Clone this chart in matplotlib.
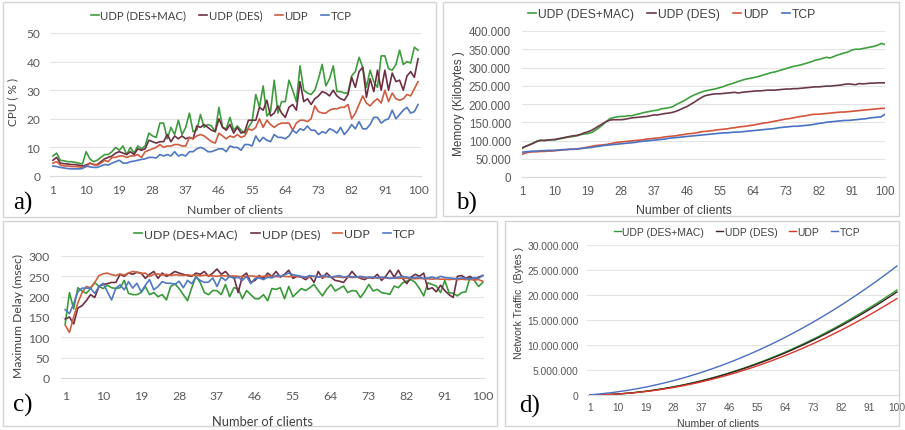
import matplotlib
matplotlib.use('Agg')
import matplotlib.pyplot as plt
from matplotlib.patches import Rectangle
from matplotlib.ticker import FuncFormatter

W, H = 905, 431

clients = list(range(1, 101))
names = ['UDP (DES+MAC)', 'UDP (DES)', 'UDP', 'TCP']

# a) CPU (%)
cpu_desmac = [7, 8, 5.5, 5.3, 5, 5, 4.8, 4.5, 4.2, 8.5,
              6, 5, 5.5, 6.5, 7.5, 7.5, 8.5, 10, 9, 10.5,
              7.5, 10, 8, 10.5, 9.5, 10.5, 15, 14, 13.5, 18.5,
              18.5, 13, 17, 14.5, 19.5, 14.5, 17, 22, 15.5, 16,
              21.5, 17, 18, 17.5, 15.5, 24, 17, 16.5, 20.5, 16,
              17.5, 16, 15, 17, 19, 28.5, 24, 31.5, 21, 22.5,
              33.5, 22, 26, 26, 33.5, 30, 26, 38.5, 30, 29,
              28.5, 30, 34, 39, 31.5, 34, 38.5, 29.5, 29.5, 29,
              29, 35, 36.5, 41.5, 38, 31, 37, 33, 31, 42,
              42, 37.5, 37, 39, 44, 39, 40, 39.5, 45, 44]
cpu_des = [5.5, 6.5, 4.5, 4.3, 4.2, 4, 4, 3.8, 3.5, 3.8,
           4.5, 4, 4, 5, 6, 6.5, 7, 8, 8.5, 8,
           7.5, 8.5, 7.5, 9.5, 9, 9.5, 12.5, 12, 11.5, 12,
           12, 14.5, 12, 14, 13, 14, 13, 13.5, 13, 17.5,
           17, 18, 17, 16, 15.5, 20, 17, 16, 18, 15,
           17, 15, 15.5, 19.5, 19.5, 19.5, 24, 23, 26.5, 21,
           22, 24.5, 22, 20.5, 24, 25, 23, 33, 26, 27,
           25, 27, 28, 29.5, 29, 28, 30, 28, 27, 26.5,
           28.5, 34.5, 31, 36.5, 38, 27.5, 34, 29.5, 37, 30,
           37, 30, 36, 33, 33.5, 30, 35, 36.5, 34.5, 41]
cpu_udp = [4.5, 5, 3.8, 3.5, 3.5, 3.3, 3.3, 3.2, 3, 3.2,
           4.5, 4, 3.8, 4.5, 5.5, 5, 6.5, 6.5, 7, 7,
           6.5, 7, 7, 7.5, 6.5, 8.5, 9, 9.5, 10, 11,
           10, 10.5, 10.5, 11, 11, 10.5, 10.5, 13.5, 13, 14,
           14.5, 14, 13, 12, 11.5, 15, 14, 13, 14, 13.5,
           14.5, 13.5, 14, 16.5, 16, 17, 20, 17, 19.5, 18,
           17, 18, 18.5, 18.5, 18.5, 16, 18.5, 19.5, 19.5, 19,
           20, 24.5, 22.5, 22, 22, 23, 23.5, 23.5, 24, 24,
           25, 20, 22, 25, 28, 25.5, 24.5, 26, 27, 25.5,
           30, 26, 29, 27, 26.5, 27, 28.5, 28, 30.5, 33]
cpu_tcp = [3.5, 3.3, 3, 2.8, 2.6, 2.5, 2.5, 2.5, 2.6, 3.5,
           3.2, 3, 3, 3.5, 4, 3.8, 4.5, 5, 5.5, 4.5,
           4.5, 5, 5.2, 5.5, 5.8, 6, 6.5, 6.5, 6.3, 7.5,
           7, 7.5, 7, 8.5, 7, 7.5, 7, 8.5, 8.5, 9.5,
           10, 9.5, 8.5, 8.5, 9, 9.5, 9.5, 8.5, 10.5, 10,
           10, 9, 11, 11, 10.5, 14, 12, 13.5, 12.5, 12,
           14.5, 13.5, 13.5, 13, 14, 16, 15, 16.5, 16, 17.5,
           16, 16, 14.5, 15.5, 15, 16.5, 16, 15, 17, 14.5,
           16, 18, 16.5, 19, 16.5, 16.5, 18, 20.5, 20.5, 18.5,
           19.5, 20, 23, 20, 21.5, 23, 24, 22, 22.5, 25]

# b) Memory (thousands of kilobytes)
mem_desmac = [78, 84, 88, 93, 98, 101, 100, 101, 102, 102,
              104, 106, 108, 110, 111, 113, 116, 118, 119, 122,
              128, 135, 143, 152, 160, 163, 165, 166, 166, 168,
              168, 171, 173, 176, 178, 180, 182, 183, 187, 188,
              190, 192, 198, 203, 208, 214, 220, 225, 229, 233,
              236, 238, 240, 242, 245, 248, 252, 255, 258, 262,
              265, 268, 270, 272, 274, 277, 280, 283, 286, 288,
              291, 294, 297, 300, 303, 305, 307, 310, 313, 316,
              320, 322, 325, 328, 326, 330, 334, 337, 340, 343,
              348, 350, 350, 352, 354, 356, 358, 361, 366, 363]
mem_des = [80, 84, 88, 92, 97, 100, 100, 101, 102, 103,
           105, 107, 109, 111, 113, 114, 117, 121, 124, 128,
           134, 140, 146, 152, 156, 157, 157, 157, 158, 160,
           162, 163, 164, 165, 166, 168, 170, 170, 172, 174,
           175, 177, 180, 184, 189, 193, 199, 205, 212, 218,
           223, 225, 227, 228, 228, 229, 230, 231, 232, 230,
           232, 233, 234, 235, 236, 236, 237, 238, 238, 238,
           239, 240, 241, 241, 242, 242, 243, 244, 245, 246,
           247, 247, 248, 249, 249, 250, 251, 252, 254, 255,
           254, 253, 256, 255, 256, 257, 257, 258, 258, 258]
mem_udp = [62, 66, 68, 69, 69, 70, 70, 71, 71, 72,
           73, 74, 75, 76, 76, 77, 78, 80, 82, 84,
           86, 87, 88, 89, 91, 93, 95, 96, 97, 98,
           99, 100, 101, 102, 104, 105, 106, 107, 108, 110,
           111, 112, 113, 115, 116, 118, 119, 120, 122, 124,
           125, 126, 127, 129, 130, 131, 132, 134, 135, 137,
           138, 139, 141, 142, 144, 146, 148, 149, 151, 153,
           155, 157, 159, 160, 162, 164, 166, 167, 169, 171,
           172, 172, 173, 174, 175, 176, 177, 178, 178, 179,
           180, 181, 182, 183, 184, 185, 186, 187, 188, 188]
mem_tcp = [68, 69, 70, 71, 71, 72, 72, 73, 73, 73,
           74, 75, 75, 76, 76, 77, 78, 79, 80, 81,
           83, 84, 86, 87, 88, 89, 90, 91, 92, 93,
           94, 95, 97, 98, 99, 100, 101, 102, 103, 104,
           106, 107, 108, 109, 110, 111, 112, 113, 114, 115,
           116, 117, 118, 119, 120, 121, 121, 122, 123, 123,
           124, 125, 126, 127, 128, 129, 130, 131, 132, 133,
           135, 136, 137, 138, 139, 139, 140, 141, 142, 143,
           145, 147, 148, 150, 151, 152, 153, 154, 155, 155,
           156, 157, 158, 159, 160, 162, 163, 164, 165, 172]

# c) Maximum delay (msec)
dly_desmac = [133, 210, 170, 222, 214, 208, 220, 235, 225, 220,
              228, 222, 220, 222, 240, 208, 205, 205, 210, 225,
              205, 210, 200, 205, 192, 225, 232, 220, 205, 190,
              222, 250, 235, 210, 205, 215, 215, 205, 230, 200,
              222, 220, 195, 215, 205, 195, 195, 205, 190, 220,
              218, 222, 195, 225, 200, 210, 220, 215, 222, 230,
              215, 202, 218, 230, 214, 220, 226, 210, 215, 214,
              198, 212, 230, 214, 218, 210, 208, 206, 226, 222,
              234, 238, 242, 235, 220, 202, 234, 230, 226, 210,
              240, 210, 208, 202, 210, 212, 248, 240, 225, 235]
dly_des = [145, 150, 133, 172, 178, 190, 205, 198, 225, 230,
           232, 235, 235, 255, 250, 258, 255, 260, 258, 245,
           255, 262, 245, 258, 250, 255, 262, 258, 255, 252,
           250, 258, 255, 262, 250, 258, 268, 255, 262, 250,
           248, 210, 250, 258, 235, 240, 252, 245, 258, 250,
           262, 248, 255, 265, 245, 250, 248, 242, 250, 235,
           262, 245, 258, 248, 240, 238, 235, 248, 262, 250,
           245, 242, 248, 245, 255, 240, 250, 265, 248, 265,
           245, 232, 248, 255, 250, 258, 218, 222, 212, 228,
           215, 205, 198, 250, 252, 245, 250, 242, 248, 252]
dly_udp = [130, 112, 150, 185, 210, 225, 222, 235, 252, 256,
           258, 254, 252, 256, 253, 258, 262, 260, 257, 258,
           250, 255, 256, 253, 255, 252, 254, 253, 252, 254,
           252, 253, 251, 253, 252, 251, 250, 252, 251, 250,
           251, 250, 249, 250, 251, 250, 249, 250, 251, 250,
           249, 250, 250, 249, 250, 250, 249, 248, 249, 250,
           249, 248, 249, 248, 249, 248, 247, 248, 247, 248,
           247, 247, 246, 247, 246, 247, 246, 245, 246, 245,
           246, 245, 245, 244, 245, 244, 244, 243, 244, 243,
           243, 242, 243, 242, 243, 242, 242, 241, 242, 238]
dly_tcp = [168, 158, 183, 212, 221, 221, 221, 208, 225, 233,
           212, 192, 221, 229, 217, 237, 221, 233, 212, 228,
           242, 217, 225, 237, 233, 233, 230, 238, 222, 240,
           232, 248, 240, 235, 236, 246, 225, 248, 240, 250,
           245, 248, 240, 250, 232, 245, 246, 242, 248, 246,
           252, 250, 254, 258, 254, 252, 250, 248, 252, 250,
           248, 252, 250, 248, 250, 252, 248, 250, 249, 248,
           250, 248, 247, 248, 246, 248, 247, 245, 246, 248,
           250, 248, 246, 247, 248, 245, 246, 248, 245, 250,
           247, 246, 245, 244, 246, 245, 243, 247, 245, 252]

# d) Network traffic (millions of bytes)
net_desmac = [0.00, 0.01, 0.02, 0.03, 0.05, 0.08, 0.10, 0.13, 0.17, 0.21,
              0.25, 0.30, 0.35, 0.41, 0.47, 0.54, 0.61, 0.68, 0.76, 0.84,
              0.93, 1.02, 1.11, 1.21, 1.31, 1.42, 1.53, 1.65, 1.77, 1.89,
              2.02, 2.15, 2.29, 2.43, 2.57, 2.72, 2.87, 3.03, 3.19, 3.36,
              3.53, 3.70, 3.88, 4.07, 4.25, 4.44, 4.64, 4.84, 5.04, 5.25,
              5.46, 5.68, 5.90, 6.12, 6.35, 6.59, 6.82, 7.06, 7.31, 7.56,
              7.81, 8.07, 8.33, 8.60, 8.87, 9.15, 9.43, 9.71, 10.00, 10.29,
              10.59, 10.89, 11.19, 11.50, 11.81, 12.13, 12.45, 12.78, 13.11, 13.44,
              13.78, 14.12, 14.47, 14.82, 15.17, 15.53, 15.89, 16.26, 16.63, 17.01,
              17.39, 17.77, 18.16, 18.56, 18.95, 19.35, 19.76, 20.17, 20.58, 21.00]
net_des = [0.00, 0.01, 0.02, 0.03, 0.05, 0.07, 0.10, 0.13, 0.17, 0.21,
           0.25, 0.30, 0.35, 0.40, 0.46, 0.53, 0.60, 0.67, 0.74, 0.82,
           0.91, 1.00, 1.09, 1.19, 1.29, 1.39, 1.50, 1.62, 1.73, 1.85,
           1.98, 2.11, 2.24, 2.38, 2.52, 2.67, 2.82, 2.97, 3.13, 3.30,
           3.46, 3.63, 3.81, 3.99, 4.17, 4.36, 4.55, 4.75, 4.95, 5.15,
           5.36, 5.57, 5.79, 6.01, 6.23, 6.46, 6.69, 6.93, 7.17, 7.42,
           7.67, 7.92, 8.18, 8.44, 8.70, 8.97, 9.25, 9.53, 9.81, 10.09,
           10.38, 10.68, 10.98, 11.28, 11.59, 11.90, 12.21, 12.53, 12.86, 13.18,
           13.52, 13.85, 14.19, 14.54, 14.88, 15.24, 15.59, 15.95, 16.32, 16.69,
           17.06, 17.44, 17.82, 18.20, 18.59, 18.98, 19.38, 19.78, 20.19, 20.60]
net_udp = [0.00, 0.01, 0.02, 0.03, 0.05, 0.07, 0.09, 0.12, 0.16, 0.19,
           0.23, 0.28, 0.33, 0.38, 0.43, 0.49, 0.56, 0.63, 0.70, 0.77,
           0.85, 0.93, 1.02, 1.11, 1.21, 1.30, 1.41, 1.51, 1.62, 1.74,
           1.85, 1.98, 2.10, 2.23, 2.36, 2.50, 2.64, 2.79, 2.94, 3.09,
           3.24, 3.40, 3.57, 3.74, 3.91, 4.08, 4.26, 4.45, 4.63, 4.83,
           5.02, 5.22, 5.42, 5.63, 5.84, 6.05, 6.27, 6.49, 6.72, 6.95,
           7.18, 7.42, 7.66, 7.91, 8.15, 8.41, 8.66, 8.92, 9.19, 9.46,
           9.73, 10.01, 10.28, 10.57, 10.86, 11.15, 11.44, 11.74, 12.05, 12.35,
           12.66, 12.98, 13.30, 13.62, 13.94, 14.27, 14.61, 14.95, 15.29, 15.63,
           15.98, 16.34, 16.69, 17.05, 17.42, 17.79, 18.16, 18.54, 18.92, 19.30]
net_tcp = [0.05, 0.09, 0.15, 0.21, 0.27, 0.34, 0.41, 0.48, 0.56, 0.65,
           0.73, 0.83, 0.92, 1.02, 1.13, 1.24, 1.35, 1.47, 1.59, 1.72,
           1.85, 1.99, 2.13, 2.27, 2.42, 2.57, 2.73, 2.89, 3.06, 3.23,
           3.40, 3.58, 3.76, 3.95, 4.14, 4.33, 4.53, 4.74, 4.95, 5.16,
           5.38, 5.60, 5.82, 6.05, 6.29, 6.53, 6.77, 7.02, 7.27, 7.53,
           7.79, 8.05, 8.32, 8.59, 8.87, 9.15, 9.44, 9.73, 10.02, 10.32,
           10.62, 10.93, 11.24, 11.56, 11.88, 12.20, 12.53, 12.87, 13.20, 13.55,
           13.89, 14.24, 14.60, 14.96, 15.32, 15.69, 16.06, 16.43, 16.82, 17.20,
           17.59, 17.98, 18.38, 18.78, 19.19, 19.60, 20.01, 20.43, 20.86, 21.29,
           21.72, 22.15, 22.59, 23.04, 23.49, 23.94, 24.40, 24.86, 25.33, 25.80]


def place(l, t, r, b):
    return [l / W, 1 - b / H, (r - l) / W, (b - t) / H]


def fx(x):
    return x / W


def fy(y):
    return 1 - y / H


fig = plt.figure(figsize=(W / 100, H / 100), dpi=100)
fig.patch.set_facecolor('white')

# panel frames
for l, t, r, b in [(3, 3, 436, 218), (443, 3, 899, 217), (3, 222, 497, 427), (505, 222, 899, 427)]:
    fig.add_artist(Rectangle((fx(l), fy(b)), (r - l) / W, (b - t) / H, transform=fig.transFigure,
                             fill=False, edgecolor='#d4d4d4', lw=1.0))

panels = [
    dict(data=[cpu_desmac, cpu_des, cpu_udp, cpu_tcp], box=(50, 34, 421, 177), xlim=(0.2, 100.8),
         ylim=(0, 50), ystep=10, fmt=None, font='Lato', tsize=8.6, lw=1.2,
         colors=['#3e9c3e', '#6e2f43', '#cf5b40', '#4f76c2'],
         ylabel='CPU ( % )', ylab_xy=(13, 102), xlab_xy=(235, 211), leg_xy=(221, 16),
         tag='a)', tag_xy=(23, 203), xpad=6, ypad=7, lsize=8.8, legsize=8.2, ysize=8.5),
    dict(data=[mem_desmac, mem_des, mem_udp, mem_tcp], box=(522, 32, 885, 178), xlim=(1, 100),
         ylim=(0, 400), ystep=50, fmt=1000, font='Liberation Sans', tsize=8.4, lw=1.2,
         colors=['#3ea03e', '#6b3a4a', '#d2553c', '#4a72c4'],
         ylabel='Memory (Kilobytes )', ylab_xy=(459, 104), xlab_xy=(684, 211), leg_xy=(672, 15),
         tag='b)', tag_xy=(466, 203), xpad=6, ypad=8, lsize=8.8, legsize=8.7, ysize=8.5),
    dict(data=[dly_desmac, dly_des, dly_udp, dly_tcp], box=(61, 257, 484, 379), xlim=(0.0, 100.3),
         ylim=(0, 300), ystep=50, fmt=None, font='Lato', tsize=8.8, lw=1.2,
         colors=['#3a9a3a', '#6e2f43', '#d0603e', '#5079c4'],
         ylabel='Maximum Delay (msec)', ylab_xy=(18, 316), xlab_xy=(262, 422), leg_xy=(275, 235),
         tag='c)', tag_xy=(23, 405), xpad=9, ypad=8, lsize=9.3, legsize=8.8, ysize=8.7),
    dict(data=[net_desmac, net_des, net_udp, net_tcp], box=(587, 246, 899, 396), xlim=(0.03, 100.65),
         ylim=(0, 30), ystep=5, fmt=1000000, font='Liberation Sans', tsize=7.4, lw=1.0,
         colors=['#2f9a2f', '#3a1f25', '#d8382c', '#4a6fc2'],
         ylabel='Network Traffic  (Bytes )', ylab_xy=(519, 303), xlab_xy=(718, 424), leg_xy=(737, 233),
         tag='d)', tag_xy=(530, 406), xpad=5, ypad=6, lsize=7.6, legsize=7.5, ysize=7.6),
]

for p in panels:
    ax = fig.add_axes(place(*p['box']))
    lines = []
    for vals, col, name in zip(p['data'], p['colors'], names):
        ln, = ax.plot(clients, vals, color=col, lw=p['lw'], label=name)
        lines.append(ln)
    ax.set_xlim(*p['xlim'])
    ax.set_ylim(*p['ylim'])
    ax.set_xticks(range(1, 101, 9))
    ax.set_yticks([p['ylim'][0] + k * p['ystep'] for k in range(int(p['ylim'][1] / p['ystep']) + 1)])
    if p['fmt']:
        mult = p['fmt']
        ax.yaxis.set_major_formatter(FuncFormatter(
            lambda v, pos, m=mult: '0' if v == 0 else f'{int(round(v * m)):,}'.replace(',', '.')))
    ax.grid(axis='y', color='#e4e4e4', lw=0.8)
    ax.set_axisbelow(True)
    for s in ['top', 'right', 'left']:
        ax.spines[s].set_visible(False)
    ax.spines['bottom'].set_color('#d9d9d9')
    ax.tick_params(axis='x', length=0, colors='#595959', labelsize=p['tsize'], pad=p['xpad'])
    ax.tick_params(axis='y', length=0, colors='#595959', labelsize=p['tsize'], pad=p['ypad'])
    for lbl in ax.get_xticklabels() + ax.get_yticklabels():
        lbl.set_family(p['font'])
    ax.patch.set_alpha(0)

    fig.legend(lines, names, loc='center', bbox_to_anchor=(fx(p['leg_xy'][0]), fy(p['leg_xy'][1])),
               ncol=4, frameon=False, prop={'family': p['font'], 'size': p['legsize']},
               handlelength=0.7, handletextpad=0.15, columnspacing=1.1, labelcolor='#404040')
    fig.text(fx(p['xlab_xy'][0]), fy(p['xlab_xy'][1]), 'Number of clients', ha='center', va='center',
             family=p['font'], fontsize=p['lsize'], color='#404040')
    fig.text(fx(p['ylab_xy'][0]), fy(p['ylab_xy'][1]), p['ylabel'], ha='center', va='center',
             rotation=90, family=p['font'], fontsize=p['ysize'], color='#404040')
    fig.text(fx(p['tag_xy'][0]), fy(p['tag_xy'][1]), p['tag'], ha='center', va='center',
             family='Liberation Serif', fontsize=18, color='black')

fig.savefig('out.png', dpi=100)
